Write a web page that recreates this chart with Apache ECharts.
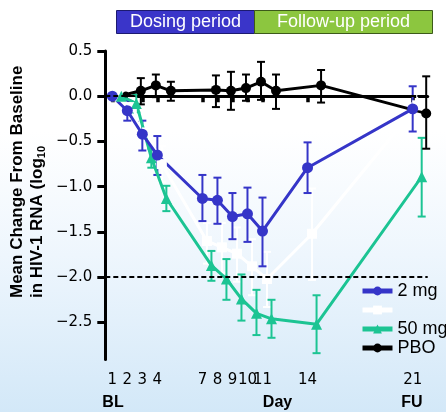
<!DOCTYPE html>
<html>
<head>
<meta charset="utf-8">
<script src="https://cdn.jsdelivr.net/npm/echarts@6/dist/echarts.min.js"></script>
<style>
  html, body { margin: 0; padding: 0; }
  body { background: linear-gradient(to bottom, #ffffff 0%, #ffffff 32%, #eef6fd 62%, #d3e8f8 100%); }
  #chart { width: 446px; height: 412px; }
</style>
</head>
<body>
<div id="chart"></div>
<script>
// tick positions on the day axis
var dayTicks = [1, 2, 3, 4, 7, 8, 9, 10, 11, 14, 21]
var yTicks = [0.5, 0, -0.5, -1, -1.5, -2, -2.5]

// 2 mg (plotted on the day)
var mg2Days = [1, 2, 3, 4, 7, 8, 9, 10, 11, 14, 21]
var mg2Mean = [0, -0.16, -0.42, -0.65, -1.13, -1.15, -1.33, -1.30, -1.49, -0.79, -0.14]
var mg2Low = [0, -0.27, -0.60, -0.87, -1.38, -1.41, -1.58, -1.61, -1.88, -1.07, -0.39]
var mg2High = [0, -0.05, -0.27, -0.44, -0.87, -0.90, -1.07, -1.01, -1.12, -0.51, 0.11]

// unlabelled white group (slightly dodged right)
var whiteDays = [1.3, 2.3, 3.3, 4.3, 7.3, 8.3, 9.3, 10.3, 11.3, 14.3, 21.3]
var whiteMean = [0, -0.12, -0.40, -0.75, -1.60, -1.67, -1.74, -1.88, -2.02, -1.52, -0.10]
var whiteLow = [0, -0.22, -0.55, -0.95, -1.85, -1.95, -2.05, -2.20, -2.33, -2.03, -0.35]
var whiteHigh = [0, -0.02, -0.25, -0.55, -1.40, -1.40, -1.45, -1.58, -1.72, -1.02, 0.15]

// 50 mg
var mg50Days = [1.6, 2.6, 3.6, 4.6, 7.6, 8.6, 9.6, 10.6, 11.6, 14.6, 21.6]
var mg50Mean = [0, -0.08, -0.68, -1.13, -1.87, -2.02, -2.24, -2.40, -2.46, -2.52, -0.89]
var mg50Low = [0, -0.18, -0.79, -1.27, -2.04, -2.25, -2.48, -2.64, -2.67, -2.84, -1.33]
var mg50High = [0, 0.02, -0.58, -0.99, -1.71, -1.80, -1.97, -2.14, -2.25, -2.20, -0.46]

// placebo
var pboDays = [1.9, 2.9, 3.9, 4.9, 7.9, 8.9, 9.9, 10.9, 11.9, 14.9, 21.9]
var pboMean = [0.02, 0.06, 0.12, 0.06, 0.07, 0.06, 0.09, 0.16, 0.06, 0.12, -0.19]
var pboLow = [0.02, -0.09, -0.01, -0.05, -0.12, -0.15, -0.05, -0.04, -0.14, -0.07, -0.58]
var pboHigh = [0.02, 0.20, 0.24, 0.16, 0.23, 0.27, 0.24, 0.38, 0.24, 0.29, 0.22]

var BLUE = '#3535c8'
var GREEN = '#1cc493'
var WHITE = '#ffffff'
var BLACK = '#000000'

function pts(xs, ys) {
  return xs.map(function (x, i) { return [x, ys[i]] })
}
function bars(xs, lo, hi) {
  var out = []
  xs.forEach(function (x, i) {
    if (lo[i] !== hi[i]) out.push([x, lo[i], hi[i]])
  })
  return out
}
function errSeries(name, xs, lo, hi, color) {
  return {
    name: name,
    type: 'custom',
    silent: true,
    data: bars(xs, lo, hi),
    encode: { x: 0, y: [1, 2] },
    renderItem: function (params, api) {
      var a = api.coord([api.value(0), api.value(1)])
      var b = api.coord([api.value(0), api.value(2)])
      var w = 4
      var st = { stroke: color, lineWidth: 2 }
      return {
        type: 'group',
        children: [
          { type: 'line', shape: { x1: a[0], y1: a[1], x2: b[0], y2: b[1] }, style: st },
          { type: 'line', shape: { x1: a[0] - w, y1: a[1], x2: a[0] + w, y2: a[1] }, style: st },
          { type: 'line', shape: { x1: b[0] - w, y1: b[1], x2: b[0] + w, y2: b[1] }, style: st }
        ]
      }
    }
  }
}
function lineSeries(name, xs, ys, color, symbol, size) {
  return {
    name: name,
    type: 'line',
    data: pts(xs, ys),
    symbol: symbol,
    symbolSize: size,
    showAllSymbol: true,
    lineStyle: { color: color, width: 3 },
    itemStyle: { color: color },
    emphasis: { disabled: true }
  }
}

var chart = echarts.init(document.getElementById('chart'))

var pbo = lineSeries('PBO', pboDays, pboMean, BLACK, 'circle', 10)
pbo.data[0] = { value: pbo.data[0], symbolSize: 6 }
pbo.markLine = {
  silent: true,
  symbol: 'none',
  label: { show: false },
  lineStyle: { color: '#000', type: [5, 3], width: 2 },
  data: [{ yAxis: 0 }, { yAxis: -2 }]
}

chart.setOption({
  backgroundColor: 'transparent',
  animation: false,
  grid: { left: 105.3, right: 18.3, top: 51, bottom: 52.5 },
  xAxis: {
    type: 'value',
    min: 0.534,
    max: 22,
    splitLine: { show: false },
    axisLine: { lineStyle: { color: '#000', width: 3 } },
    axisTick: { show: true, length: 6, lineStyle: { color: '#000', width: 3.5 }, customValues: dayTicks },
    axisLabel: {
      customValues: dayTicks,
      margin: 13,
      color: '#000',
      fontSize: 15,
      fontFamily: 'DejaVu Sans'
    }
  },
  yAxis: {
    type: 'value',
    min: -2.91,
    max: 0.5,
    splitLine: { show: false },
    axisLine: { show: true, lineStyle: { color: '#000', width: 3 } },
    axisTick: { show: true, length: 8, lineStyle: { color: '#000', width: 3 }, customValues: yTicks },
    axisLabel: {
      customValues: yTicks,
      margin: 13,
      color: '#000',
      fontSize: 15,
      fontFamily: 'DejaVu Sans',
      formatter: function (v) { return v.toFixed(1).replace('-', '\u2212') }
    }
  },
  legend: {
    orient: 'vertical',
    left: 360,
    top: 282,
    padding: 0,
    itemWidth: 30,
    itemHeight: 11,
    itemGap: 1,
    itemStyle: { borderWidth: 0 },
    lineStyle: { width: 5 },
    textStyle: { fontSize: 18, fontFamily: 'Liberation Sans', color: '#000', lineHeight: 18 },
    data: ['2 mg', ' ', '50 mg', 'PBO']
  },
  graphic: [
    { type: 'rect', shape: { x: 116.5, y: 10.5, width: 138, height: 23 }, style: { fill: '#3a35c9', stroke: '#1c1a70', lineWidth: 1 } },
    { type: 'rect', shape: { x: 254.5, y: 10.5, width: 178, height: 23 }, style: { fill: '#8cc63f', stroke: '#3c5a1a', lineWidth: 1 } },
    { type: 'text', x: 185.5, y: 22, style: { text: 'Dosing period', fill: '#fff', font: '18px "Liberation Sans"', textAlign: 'center', textVerticalAlign: 'middle' } },
    { type: 'text', x: 343.5, y: 22, style: { text: 'Follow-up period', fill: '#fff', font: '18px "Liberation Sans"', textAlign: 'center', textVerticalAlign: 'middle' } },
    {
      type: 'text', x: 27, y: 298, rotation: Math.PI / 2,
      style: {
        text: '{a|Mean Change From Baseline}\n{a|in HIV-1 RNA (log}{s|10}',
        textAlign: 'left',
        textVerticalAlign: 'middle',
        rich: {
          a: { fontSize: 17, fontWeight: 'bold', fontFamily: 'Liberation Sans', fill: '#000', lineHeight: 20 },
          s: { fontSize: 11, fontWeight: 'bold', fontFamily: 'Liberation Sans', fill: '#000', lineHeight: 20, verticalAlign: 'bottom', padding: [6, 0, 0, 0] }
        }
      }
    },
    { type: 'text', x: 113, y: 403, style: { text: 'BL', fill: '#000', font: 'bold 16px "Liberation Sans"', textAlign: 'center', textVerticalAlign: 'middle' } },
    { type: 'text', x: 277.5, y: 403, style: { text: 'Day', fill: '#000', font: 'bold 16px "Liberation Sans"', textAlign: 'center', textVerticalAlign: 'middle' } },
    { type: 'text', x: 412, y: 403, style: { text: 'FU', fill: '#000', font: 'bold 16px "Liberation Sans"', textAlign: 'center', textVerticalAlign: 'middle' } }
  ],
  series: [
    errSeries('err-white', whiteDays, whiteLow, whiteHigh, WHITE),
    lineSeries(' ', whiteDays, whiteMean, WHITE, 'rect', 10),
    errSeries('err-50', mg50Days, mg50Low, mg50High, GREEN),
    lineSeries('50 mg', mg50Days, mg50Mean, GREEN, 'triangle', 11),
    errSeries('err-2', mg2Days, mg2Low, mg2High, BLUE),
    lineSeries('2 mg', mg2Days, mg2Mean, BLUE, 'circle', 11),
    errSeries('err-pbo', pboDays, pboLow, pboHigh, BLACK),
    pbo
  ]
})
</script>
</body>
</html>
